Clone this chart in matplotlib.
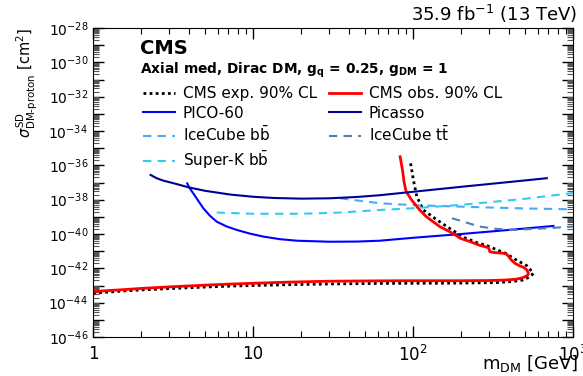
import numpy as np
import matplotlib
matplotlib.use('Agg')
import matplotlib.pyplot as plt
from matplotlib import rcParams
from matplotlib.ticker import LogLocator, NullFormatter, FixedLocator

rcParams['font.family'] = 'DejaVu Sans'
rcParams['mathtext.fontset'] = 'dejavusans'

# === DATA (log10 of cross section in cm^2) ===
# CMS observed 90% CL (red): right along the bottom, turns at ~525 GeV, back up
obs_m = [1, 1.5, 2, 3, 5, 7, 10, 17, 30, 60, 100, 200, 300, 380, 444, 490, 520, 526,
         515, 490, 460, 434, 415, 404, 385, 366, 320, 302, 298, 293, 261, 228, 197, 180,
         169, 147, 121, 110, 98, 90.5, 88, 86, 83]
obs_logxs = [-43.35, -43.25, -43.17, -43.08, -42.98, -42.92, -42.87, -42.80, -42.75,
             -42.73, -42.72, -42.72, -42.71, -42.68, -42.63, -42.53, -42.40, -42.29,
             -42.10, -41.94, -41.84, -41.71, -41.55, -41.42, -41.18, -41.12, -41.08,
             -41.03, -40.85, -40.78, -40.66, -40.45, -40.25, -40.00, -39.86, -39.57,
             -38.99, -38.60, -38.02, -37.53, -37.00, -36.30, -35.50]

# CMS expected 90% CL (black dotted)
exp_m = [1, 1.5, 2, 3, 5, 7, 10, 17, 30, 60, 100, 200, 331, 420, 487, 540, 565, 545,
         515, 470, 430, 385, 340, 290, 250, 207, 175, 141, 116, 105.5, 100.5, 96.5]
exp_logxs = [-43.45, -43.33, -43.26, -43.18, -43.09, -43.04, -43.00, -42.95, -42.91,
             -42.88, -42.87, -42.86, -42.83, -42.77, -42.68, -42.48, -42.29, -42.12,
             -41.85, -41.65, -41.45, -41.15, -40.95, -40.68, -40.50, -40.19, -39.76,
             -39.18, -38.60, -37.82, -36.85, -35.88]

# PICO-60 (blue)
pico_m = [3.88, 4.0, 4.23, 4.5, 4.89, 5.4, 5.93, 6.8, 7.9, 9.5, 11.6, 14.7, 18.8, 30, 45,
          62, 100, 200, 400, 754]
pico_logxs = [-37.05, -37.30, -37.63, -38.00, -38.50, -38.95, -39.28, -39.55, -39.76,
              -39.97, -40.15, -40.30, -40.39, -40.45, -40.44, -40.39, -40.22, -40.00,
              -39.76, -39.53]

# Picasso (navy)
picasso_m = [2.29, 2.5, 2.75, 3.3, 3.95, 5, 7.18, 10, 13.4, 20, 30, 45, 62, 100, 200, 400, 685]
picasso_logxs = [-36.56, -36.75, -36.89, -37.08, -37.28, -37.48, -37.70, -37.83, -37.90,
                 -37.94, -37.92, -37.84, -37.74, -37.54, -37.25, -36.97, -36.75]

# IceCube b-bbar (light blue dashed)
icbb_m = [35, 62, 100, 261, 500, 955, 1150]
icbb_logxs = [-37.92, -38.21, -38.32, -38.44, -38.51, -38.56, -38.58]

# Super-K b-bbar (cyan dashed)
superk_m = [5.93, 10, 20, 35, 62, 100, 200, 500, 955, 1150]
superk_logxs = [-38.75, -38.82, -38.82, -38.75, -38.60, -38.50, -38.30, -37.95, -37.63,
                -37.55]

# IceCube t-tbar (steel blue dashed)
ictt_m = [175, 261, 330, 421, 700, 1150]
ictt_logxs = [-39.08, -39.57, -39.70, -39.76, -39.66, -39.53]


def xs(logs):
    return [10.0 ** v for v in logs]


# === FIGURE ===
fig = plt.figure(figsize=(5.83, 3.76), dpi=100)
ax = fig.add_axes([0.1595, 0.1037, 0.8235, 0.8218])

dash = (0, (4, 3))
h_exp, = ax.plot(exp_m, xs(exp_logxs), color='black', linestyle=(0, (1, 1.2)),
                 linewidth=2.0, label='CMS exp. 90% CL')
h_pico, = ax.plot(pico_m, xs(pico_logxs), color='#0000ff', linewidth=1.5, label='PICO-60')
h_icbb, = ax.plot(icbb_m, xs(icbb_logxs), color='#4aa8ff', linestyle=dash, linewidth=1.5,
                  label='IceCube b$\\bar{\\mathrm{b}}$')
h_sk, = ax.plot(superk_m, xs(superk_logxs), color='#33ccee', linestyle=dash, linewidth=1.5,
                label='Super-K b$\\bar{\\mathrm{b}}$')
h_obs, = ax.plot(obs_m, xs(obs_logxs), color='#ff0000', linewidth=2.0,
                 label='CMS obs. 90% CL')
h_pic, = ax.plot(picasso_m, xs(picasso_logxs), color='#000099', linewidth=1.5,
                 label='Picasso')
h_ictt, = ax.plot(ictt_m, xs(ictt_logxs), color='#4f7fae', linestyle=dash, linewidth=1.5,
                  label='IceCube t$\\bar{\\mathrm{t}}$')

ax.set_xscale('log')
ax.set_yscale('log')
ax.set_xlim(1, 1000)
ax.set_ylim(1e-46, 1e-28)

# ticks, ROOT style
ax.tick_params(which='both', direction='in', top=True, right=True)
ax.tick_params(which='major', length=8, width=1)
ax.tick_params(which='minor', length=4, width=0.8)
ax.xaxis.set_major_locator(FixedLocator([1, 10, 100, 1000]))
ax.xaxis.set_minor_locator(LogLocator(base=10, subs=np.arange(2, 10), numticks=20))
ax.set_xticklabels(['1', '10', '$10^{2}$', '$10^{3}$'])
ax.xaxis.set_minor_formatter(NullFormatter())
ax.tick_params(axis='x', pad=6, labelsize=12)

ydec = np.arange(-46, -27)
ax.yaxis.set_major_locator(FixedLocator([10.0 ** d for d in ydec]))
ax.yaxis.set_minor_locator(LogLocator(base=10, subs=np.arange(2, 10), numticks=40))
ax.yaxis.set_minor_formatter(NullFormatter())
ax.set_yticklabels(['$10^{%d}$' % d if d % 2 == 0 else '' for d in ydec])
ax.tick_params(axis='y', labelsize=10)
ax.tick_params(axis='y', which='minor', length=4, color='#555555')

ax.set_xlabel('m$_{\\mathrm{DM}}$ [GeV]', fontsize=13)
ax.xaxis.set_label_coords(1.012, -0.085)
ax.xaxis.label.set_horizontalalignment('right')
ax.xaxis.label.set_verticalalignment('center')
ax.set_ylabel('$\\sigma^{\\mathrm{SD}}_{\\mathrm{DM\\text{-}proton}}$ [cm$^{2}$]', fontsize=10.5,
              loc='top', labelpad=6)

leg = ax.legend(handles=[h_exp, h_pico, h_icbb, h_sk, h_obs, h_pic, h_ictt], ncol=2,
                frameon=False, fontsize=11, loc='upper left', bbox_to_anchor=(0.104, 0.812),
                handlelength=2.1, handletextpad=0.5, columnspacing=0.8, labelspacing=0.3,
                borderaxespad=0, borderpad=0)

fig.text(0.24, 0.870, 'CMS', fontsize=14, fontweight='bold', va='center')
fig.text(0.24, 0.814, 'Axial med, Dirac DM, $\\mathbf{g_{q}}$ = 0.25, $\\mathbf{g_{DM}}$ = 1',
         fontsize=9.9, fontweight='bold', va='center')
fig.text(0.99, 0.962, '35.9 fb$^{-1}$ (13 TeV)', fontsize=13, ha='right', va='center')

fig.savefig('out.png', dpi=100)
